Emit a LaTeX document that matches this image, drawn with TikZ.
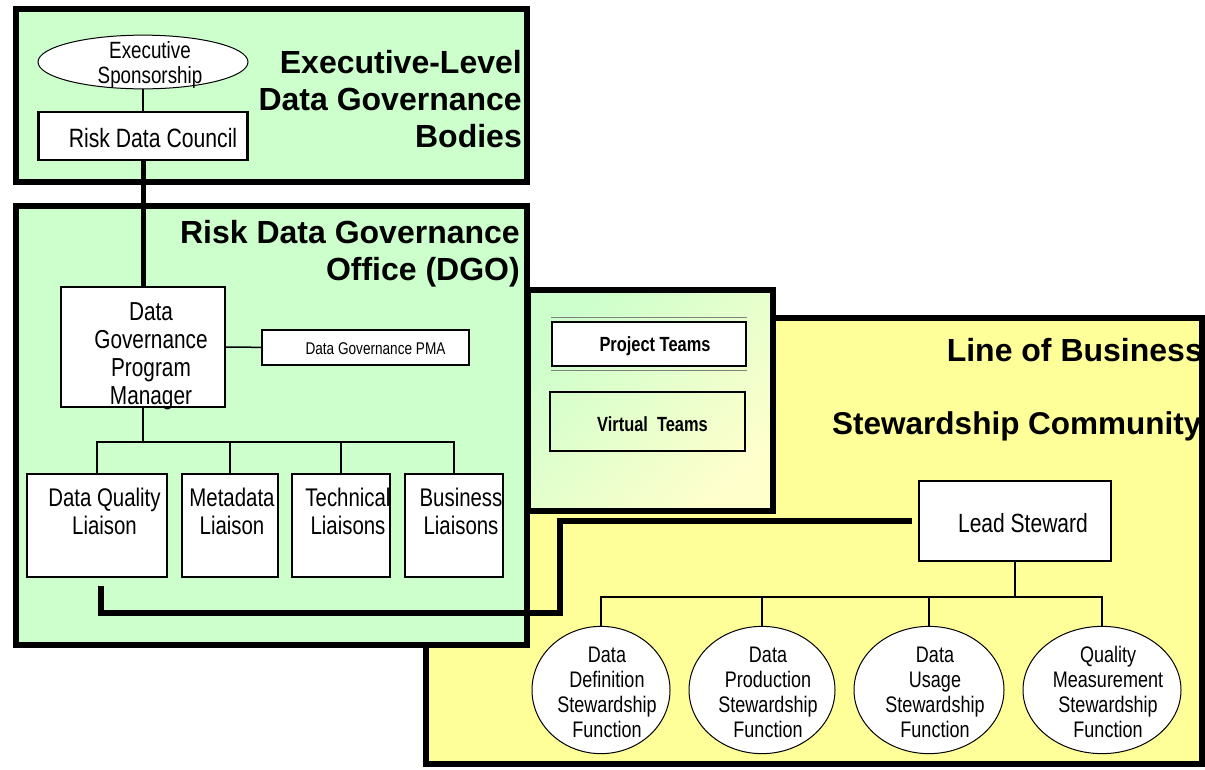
\documentclass[tikz,border=0pt]{standalone}
\usepackage{fontspec}
\setmainfont{Liberation Sans}
\newfontfamily\narrowfont{Liberation Sans}[FakeStretch=0.8]
\usetikzlibrary{shapes.geometric,positioning}
\definecolor{dgogreen}{HTML}{CCFFCC}
\definecolor{lobyellow}{HTML}{FFFF99}
\definecolor{paleyellow}{HTML}{FFFFCC}
% text sits a little right of the middle of its box
\newcommand\padded[2][12pt]{\hspace*{#1}\begin{tabular}{@{}c@{}}#2\end{tabular}}

\begin{document}
\begin{tikzpicture}[x=1pt,y=-1pt,
    region/.style={draw, line width=6pt, inner sep=0pt},
    box/.style={draw, fill=white, line width=1.6pt, inner sep=-10pt,
        font=\narrowfont\fontsize{25.5}{28}\selectfont},
    func/.style={draw, ellipse, fill=white, line width=1pt, inner sep=-10pt,
        minimum height=116, font=\narrowfont\fontsize{22.5}{25}\selectfont},
    title/.style={font=\bfseries\fontsize{32}{37}\selectfont, align=right, inner sep=0pt},
    tie/.style={line width=1.5pt},
    link/.style={line width=6pt}]
    \useasboundingbox (0,0) rectangle (1205,769);

    % the four regions
    \node[region, fill=lobyellow, minimum width=776, minimum height=446] (lob) at (814,541) {};
    \node[region, fill=dgogreen, minimum width=511, minimum height=439] (dgo) at (271.5,425.5) {};
    \node[region, fill=dgogreen, minimum width=511, minimum height=173] (exec) at (271.5,95.5) {};
    \node[region, top color=dgogreen, bottom color=paleyellow, shading angle=45,
        minimum width=245, minimum height=221] (teams) at (650.5,400.5) {};

    \node[title, anchor=east] (exectitle) at (522,99) {Executive-Level\\Data Governance\\Bodies};
    \node[title, anchor=east] (dgotitle) at (520,254) {Risk Data Governance\\Office (DGO)};
    \node[title, anchor=east] (lobtitle) at (1203,350) {Line of Business};
    \node[title, anchor=west, font=\bfseries\fontsize{31.5}{37}\selectfont] (stewtitle) at (832,426) {Stewardship Community};

    % executive level
    \node[func, minimum width=210, minimum height=48, font=\narrowfont\fontsize{23.5}{25}\selectfont]
        (sponsor) at (143,62) {\padded[14pt]{~\\[-17pt]Executive\\Sponsorship}};
    \node[box, line width=2.5pt, minimum width=209, minimum height=48, font=\narrowfont\fontsize{26.5}{28}\selectfont]
        (council) at (143,136) {\padded[20pt]{~\\[-16pt]Risk Data Council}};

    % DGO
    \node[box, minimum width=164, minimum height=120, font=\narrowfont\fontsize{26}{28}\selectfont]
        (manager) at (143,347) {\padded[16pt]{~\\[-8pt]Data\\Governance\\Program\\Manager}};
    \node[box, line width=1.2pt, minimum width=207, minimum height=35,
        font=\narrowfont\fontsize{17}{19}\selectfont] (pma) at (365.5,347.5) {\padded[20pt]{~\\[-13pt]Data Governance PMA}};
    \node[box, minimum width=140, minimum height=103] (dq) at (97,525.5) {\padded[15pt]{Data Quality\\Liaison\\[-6pt]~}};
    \node[box, minimum width=96, minimum height=103] (meta) at (230,525.5) {\padded[4pt]{Metadata\\Liaison\\[-6pt]~}};
    \node[box, minimum width=98, minimum height=103] (tech) at (341,525.5) {\padded[14pt]{Technical\\Liaisons\\[-6pt]~}};
    \node[box, minimum width=98, minimum height=103] (bus) at (454,525.5) {\padded[14pt]{Business\\Liaisons\\[-6pt]~}};

    % teams
    \node[box, minimum width=194, minimum height=44,
        font=\narrowfont\bfseries\fontsize{20.5}{22}\selectfont] (project) at (649,344) {\padded{~\\[-16pt]Project Teams}};
    \draw[line width=0.7pt, gray] ([yshift=4pt]project.north west) -- ([yshift=4pt]project.north east);
    \draw[line width=0.7pt, gray] ([yshift=-4pt]project.south west) -- ([yshift=-4pt]project.south east);
    \node[box, fill=none, minimum width=195, minimum height=59,
        font=\narrowfont\bfseries\fontsize{20.5}{22}\selectfont] (virtual) at (647.5,421.5) {\padded[10pt]{~\\[-10pt]Virtual\ \ Teams}};

    % line of business
    \node[box, minimum width=192, minimum height=80, font=\narrowfont\fontsize{26.3}{28}\selectfont]
        (lead) at (1015,521) {\padded[16pt]{~\\[-16pt]Lead Steward}};
    \node[func, minimum width=138] (fdef) at (601,690) {\padded{~\\[-15pt]Data\\Definition\\Stewardship\\Function}};
    \node[func, minimum width=146] (fprod) at (762,690) {\padded{~\\[-15pt]Data\\Production\\Stewardship\\Function}};
    \node[func, minimum width=150] (fuse) at (929,690) {\padded{~\\[-15pt]Data\\Usage\\Stewardship\\Function}};
    \node[func, minimum width=158] (fqual) at (1102,690) {\padded{~\\[-15pt]Quality\\Measurement\\Stewardship\\Function}};

    % connectors
    \draw[tie] (sponsor) -- (council);
    \draw[link, line width=5pt] (council) -- (manager);
    \draw[tie] (manager) -- (pma);
    \coordinate (mbus) at ([yshift=-34pt]manager.south);
    \draw[tie] (manager.south) -- (mbus);
    \foreach \n in {dq,meta,tech,bus}
        \draw[tie] (mbus) -| (\n.north);

    \coordinate (lbus) at ([yshift=-35pt]lead.south);
    \draw[tie] (lead.south) -- (lbus);
    \foreach \n in {fdef,fprod,fuse,fqual}
        \draw[tie] (lbus) -| (\n.north);

    \coordinate (dqout) at ([xshift=4pt,yshift=-8pt]dq.south);
    \coordinate (bend) at (560,613);
    \draw[link, shorten >=6pt] (dqout) |- (bend) |- (lead.west);
\end{tikzpicture}
\end{document}
